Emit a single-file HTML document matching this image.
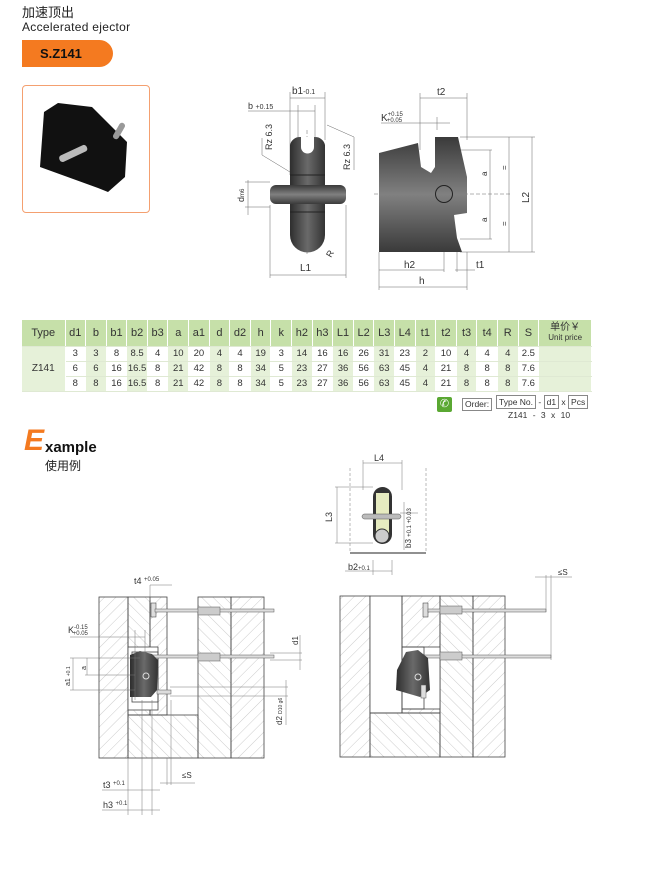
<!DOCTYPE html>
<html><head><meta charset="utf-8"><style>
body{margin:0;width:647px;height:874px;background:#fff;font-family:"Liberation Sans","Noto Sans CJK SC",sans-serif;position:relative;overflow:hidden}
.a{position:absolute;white-space:nowrap;line-height:1}
table{position:absolute;left:22px;top:320px;border-collapse:collapse;font-size:9.5px;color:#333;table-layout:fixed;width:570px}
td{text-align:center;padding:0;height:14px;border-right:1px solid #fff;border-bottom:1px solid #dfe9d3;line-height:1}
tr.h td{background:#c6e0a9;height:26px;font-size:11px}
td.g{background:#e6f1d9}
</style></head><body>
<div class="a" style="left:22px;top:6px;font-size:13px;color:#222">加速顶出</div>
<div class="a" style="left:22px;top:21px;font-size:12px;color:#222;letter-spacing:.3px">Accelerated ejector</div>
<div class="a" style="left:22px;top:40px;width:91px;height:27px;background:#f47a20;border-radius:0 14px 14px 0"></div>
<div class="a" style="left:40px;top:47px;font-size:13px;font-weight:bold;color:#111">S.Z141</div>
<div class="a" style="left:22px;top:85px;width:126px;height:126px;border:1px solid #f4a070;border-radius:4px"></div>

<table>
<colgroup><col style="width:43px"><col span="23" style="width:20.6px"><col style="width:53px"></colgroup>
<tr class="h"><td>Type</td><td>d1</td><td>b</td><td>b1</td><td>b2</td><td>b3</td><td>a</td><td>a1</td><td>d</td><td>d2</td><td>h</td><td>k</td><td>h2</td><td>h3</td><td>L1</td><td>L2</td><td>L3</td><td>L4</td><td>t1</td><td>t2</td><td>t3</td><td>t4</td><td>R</td><td>S</td><td style="font-size:10px;line-height:10px">单价￥<br><span style="font-size:8px">Unit price</span></td></tr>
<tr><td class="g" rowspan="3" style="font-size:10px">Z141</td><td>3</td><td class="g">3</td><td>8</td><td class="g">8.5</td><td>4</td><td class="g">10</td><td>20</td><td class="g">4</td><td>4</td><td class="g">19</td><td>3</td><td class="g">14</td><td>16</td><td class="g">16</td><td>26</td><td class="g">31</td><td>23</td><td class="g">2</td><td>10</td><td class="g">4</td><td>4</td><td class="g">4</td><td>2.5</td><td class="g"></td></tr>
<tr><td>6</td><td class="g">6</td><td>16</td><td class="g">16.5</td><td>8</td><td class="g">21</td><td>42</td><td class="g">8</td><td>8</td><td class="g">34</td><td>5</td><td class="g">23</td><td>27</td><td class="g">36</td><td>56</td><td class="g">63</td><td>45</td><td class="g">4</td><td>21</td><td class="g">8</td><td>8</td><td class="g">8</td><td>7.6</td><td class="g"></td></tr>
<tr><td>8</td><td class="g">8</td><td>16</td><td class="g">16.5</td><td>8</td><td class="g">21</td><td>42</td><td class="g">8</td><td>8</td><td class="g">34</td><td>5</td><td class="g">23</td><td>27</td><td class="g">36</td><td>56</td><td class="g">63</td><td>45</td><td class="g">4</td><td>21</td><td class="g">8</td><td>8</td><td class="g">8</td><td>7.6</td><td class="g"></td></tr>
</table>

<div class="a" style="left:437px;top:397px;width:15px;height:15px;background:#5aa832;border-radius:2px;color:#fff;font-size:11px;text-align:center;line-height:15px">✆</div>
<div class="a" style="left:462px;top:398px;font-size:8.5px;color:#333;border:1px solid #888;padding:1px 2px">Order:</div>
<div class="a" style="left:496px;top:398px;font-size:8.5px;color:#333"><span style="border:1px solid #888;padding:1px 2px">Type No.</span> - <span style="border:1px solid #888;padding:1px 2px">d1</span> x <span style="border:1px solid #888;padding:1px 2px">Pcs</span></div>
<div class="a" style="left:508px;top:411px;font-size:8.5px;color:#333;word-spacing:3px">Z141 - 3 x 10</div>

<div class="a" style="left:24px;top:426px;font-size:30px;font-weight:bold;font-style:italic;color:#f47a20">E</div>
<div class="a" style="left:45px;top:440px;font-size:15px;font-weight:bold;color:#111">xample</div>
<div class="a" style="left:45px;top:460px;font-size:12px;color:#222">使用例</div>

<svg class="a" style="left:0;top:0" width="647" height="874" font-family="Liberation Sans, sans-serif" font-size="9" fill="#333">
<defs>
<linearGradient id="gd" x1="0" x2="1"><stop offset="0" stop-color="#2e2e2e"/><stop offset=".5" stop-color="#6a6a6a"/><stop offset="1" stop-color="#333"/></linearGradient>
<linearGradient id="gs" x1="0" y1="0" x2="0" y2="1"><stop offset="0" stop-color="#3a3a3a"/><stop offset=".5" stop-color="#808080"/><stop offset="1" stop-color="#3a3a3a"/></linearGradient>
<pattern id="h1" width="8" height="8" patternUnits="userSpaceOnUse" patternTransform="rotate(45)"><line x1="0" y1="0" x2="0" y2="8" stroke="#aaa" stroke-width=".6"/></pattern>
<pattern id="h2" width="8" height="8" patternUnits="userSpaceOnUse" patternTransform="rotate(-45)"><line x1="0" y1="0" x2="0" y2="8" stroke="#aaa" stroke-width=".6"/></pattern>
</defs>
<polygon points="44,112 58,103 92,107 127,142 125,177 108,192 98,188 40,167" fill="#111"/>
<rect x="58" y="150" width="30" height="7" rx="3" fill="#bbb" transform="rotate(-25 73 153)"/>
<rect x="110" y="128" width="18" height="6" rx="3" fill="#999" transform="rotate(-60 119 131)"/>
<g stroke="#666" stroke-width=".5" fill="none">
<line x1="290" y1="92" x2="290" y2="175"/><line x1="325" y1="92" x2="325" y2="140"/>
<line x1="290" y1="98" x2="325" y2="98"/><line x1="248" y1="111" x2="315" y2="111"/>
<line x1="298" y1="105" x2="298" y2="150"/><line x1="315" y1="105" x2="315" y2="150"/>
<line x1="270" y1="205" x2="270" y2="278"/><line x1="346" y1="205" x2="346" y2="278"/><line x1="270" y1="275" x2="346" y2="275"/>
<line x1="245" y1="182" x2="270" y2="182"/><line x1="245" y1="207" x2="270" y2="207"/><line x1="248" y1="180" x2="248" y2="215"/>
<line x1="262" y1="138" x2="262" y2="155"/><line x1="262" y1="155" x2="290" y2="172"/>
<line x1="327" y1="125" x2="354" y2="137"/><line x1="354" y1="137" x2="354" y2="170"/>
<line x1="307" y1="130" x2="307" y2="255" stroke-dasharray="4,2"/>
</g>
<path d="M290,145 a10,10 0 0 1 10,-8 h15 a10,10 0 0 1 10,8 V235 a17.5,17.5 0 0 1 -35,0Z" fill="url(#gd)"/>
<rect x="270" y="185" width="76" height="19" rx="6" fill="url(#gs)"/>
<path d="M301,137 v10 a6.5,6.5 0 0 0 13,0 v-10Z" fill="#fff"/>
<line x1="290" y1="175" x2="325" y2="175" stroke="#222"/><line x1="290" y1="212" x2="325" y2="212" stroke="#222"/>
<text x="292" y="94" font-size="10">b1<tspan font-size="7">-0.1</tspan></text>
<text x="248" y="109" font-size="9">b <tspan font-size="7">+0.15</tspan></text>
<text transform="translate(272,150) rotate(-90)" font-size="9">Rz 6.3</text>
<text transform="translate(350,170) rotate(-90)" font-size="9">Rz 6.3</text>
<text transform="translate(244,202) rotate(-90)" font-size="9">d<tspan font-size="6">m6</tspan></text>
<text x="300" y="271" font-size="10">L1</text>
<text transform="translate(331,258) rotate(-60)" font-size="9">R</text>
<g stroke="#666" stroke-width=".5" fill="none">
<line x1="420" y1="93" x2="420" y2="150"/><line x1="467" y1="93" x2="467" y2="140"/><line x1="420" y1="98" x2="467" y2="98"/>
<line x1="381" y1="123" x2="450" y2="123"/><line x1="437" y1="117" x2="437" y2="130"/>
<line x1="460" y1="137" x2="535" y2="137"/><line x1="460" y1="252" x2="535" y2="252"/><line x1="532" y1="137" x2="532" y2="252"/>
<line x1="460" y1="150" x2="492" y2="150"/><line x1="460" y1="239" x2="492" y2="239"/><line x1="490" y1="150" x2="490" y2="239"/>
<line x1="374" y1="194" x2="512" y2="194" stroke-dasharray="4,2"/><line x1="509" y1="137" x2="509" y2="252"/>
<line x1="379" y1="252" x2="379" y2="290"/><line x1="467" y1="252" x2="467" y2="290"/><line x1="444" y1="200" x2="444" y2="272"/><line x1="457" y1="252" x2="457" y2="272"/>
<line x1="379" y1="270" x2="444" y2="270"/><line x1="455" y1="270" x2="475" y2="270"/><line x1="379" y1="287" x2="467" y2="287"/>
</g>
<polygon points="379,153 418,143 421,167 431,173 435,167 435,137 458,137 467,177 467,213 454,215 457,238 462,252 379,252" fill="url(#gs)"/>
<path d="M421,160 q5,15 14,5" fill="#fff"/>
<circle cx="444" cy="194" r="8.5" fill="none" stroke="#222"/>
<text x="437" y="95" font-size="10">t2</text>
<text x="381" y="121" font-size="10">K<tspan font-size="6" dy="-5">+0.15</tspan><tspan font-size="6" dx="-16" dy="6">+0.05</tspan></text>
<text transform="translate(487,176) rotate(-90)" font-size="8">a</text><text transform="translate(487,222) rotate(-90)" font-size="8">a</text>
<text transform="translate(507,170) rotate(-90)" font-size="8">=</text><text transform="translate(507,226) rotate(-90)" font-size="8">=</text>
<text transform="translate(529,203) rotate(-90)" font-size="10">L2</text>
<text x="404" y="268" font-size="10">h2</text><text x="476" y="268" font-size="10">t1</text><text x="419" y="284" font-size="10">h</text>

<g stroke="#777" stroke-width=".5" fill="none">
<line x1="350" y1="468" x2="350" y2="553" stroke-dasharray="3,2"/><line x1="426" y1="468" x2="426" y2="553" stroke-dasharray="3,2"/>
<line x1="363" y1="463" x2="402" y2="463"/><line x1="363" y1="460" x2="363" y2="490"/><line x1="402" y1="460" x2="402" y2="490"/>
<line x1="335" y1="487" x2="373" y2="487"/><line x1="335" y1="543" x2="373" y2="543"/><line x1="337" y1="487" x2="337" y2="543"/>
<line x1="373" y1="560" x2="373" y2="575"/><line x1="392" y1="560" x2="392" y2="575"/><line x1="345" y1="571" x2="392" y2="571"/>
<line x1="400" y1="513" x2="418" y2="513"/><line x1="404" y1="502" x2="404" y2="550"/>
</g>
<line x1="350" y1="553" x2="426" y2="553" stroke="#222"/>
<rect x="373" y="487" width="19" height="57" rx="9.5" fill="#333"/>
<rect x="376" y="493" width="13" height="42" fill="#e6ebc0"/>
<circle cx="382" cy="536" r="7" fill="#ccc" stroke="#333"/>
<rect x="362" y="514" width="39" height="5" rx="2.5" fill="#bbb" stroke="#555" stroke-width=".5"/>
<text x="374" y="461" font-size="9">L4</text>
<text transform="translate(332,522) rotate(-90)" font-size="9">L3</text>
<text transform="translate(411,548) rotate(-90)" font-size="8">b3 <tspan font-size="6">+0.1 +0.03</tspan></text>
<text x="348" y="570" font-size="9">b2<tspan font-size="6">+0.1</tspan></text>

<g stroke="#444" stroke-width=".8">
<rect x="99" y="597" width="29" height="161" fill="url(#h1)"/>
<rect x="128" y="597" width="22" height="118" fill="url(#h2)"/>
<rect x="150" y="597" width="17" height="118" fill="url(#h1)"/>
<rect x="128" y="715" width="70" height="43" fill="url(#h2)"/>
<rect x="198" y="597" width="33" height="161" fill="url(#h2)"/>
<rect x="231" y="597" width="33" height="161" fill="url(#h1)"/>
<rect x="128" y="647" width="30" height="63" fill="#fff"/>
<rect x="132" y="652" width="26" height="50" fill="none"/>
</g>
<rect x="151" y="603" width="5" height="14" fill="#ddd" stroke="#333" stroke-width=".5"/>
<rect x="155" y="609" width="119" height="3" fill="#ddd" stroke="#555" stroke-width=".5"/>
<rect x="143" y="655" width="131" height="3" fill="#ddd" stroke="#555" stroke-width=".5"/>
<rect x="198" y="607" width="22" height="8" fill="#ccc" stroke="#555" stroke-width=".5"/>
<rect x="198" y="653" width="22" height="8" fill="#ccc" stroke="#555" stroke-width=".5"/>
<polygon points="130,655 140,651 152,654 158,660 157,690 151,697 130,697" fill="url(#gd)"/>
<circle cx="146" cy="676" r="3" fill="none" stroke="#ddd"/>
<rect x="157" y="690" width="14" height="4" fill="#ddd" stroke="#555" stroke-width=".5"/>
<g stroke="#777" stroke-width=".5" fill="none">
<line x1="150" y1="585" x2="172" y2="585"/><line x1="150" y1="585" x2="150" y2="600"/>
<line x1="70" y1="637" x2="145" y2="637"/><line x1="135" y1="630" x2="135" y2="700"/><line x1="145" y1="630" x2="145" y2="660"/>
<line x1="70" y1="658" x2="140" y2="658"/><line x1="70" y1="690" x2="135" y2="690"/><line x1="73" y1="658" x2="73" y2="690"/>
<line x1="85" y1="675" x2="135" y2="675"/><line x1="87" y1="658" x2="87" y2="675"/>
<line x1="270" y1="653" x2="302" y2="653"/><line x1="270" y1="660" x2="302" y2="660"/><line x1="300" y1="635" x2="300" y2="670"/>
<line x1="170" y1="687" x2="288" y2="687"/><line x1="170" y1="696" x2="288" y2="696"/><line x1="286" y1="680" x2="286" y2="725"/>
<line x1="128" y1="758" x2="128" y2="815"/><line x1="142" y1="700" x2="142" y2="815"/><line x1="152" y1="700" x2="152" y2="815"/>
<line x1="167" y1="758" x2="167" y2="785"/><line x1="171" y1="700" x2="171" y2="785"/><line x1="160" y1="783" x2="195" y2="783"/>
<line x1="102" y1="790" x2="160" y2="790"/><line x1="102" y1="810" x2="160" y2="810"/>
</g>
<text x="134" y="584" font-size="9">t4 <tspan font-size="6" dy="-3">+0.05</tspan></text>
<text x="68" y="633" font-size="9">K<tspan font-size="6" dy="-4">-0.15</tspan><tspan font-size="6" dx="-15" dy="6">+0.05</tspan></text>
<text transform="translate(70,686) rotate(-90)" font-size="7">a1 <tspan font-size="5">+0.1</tspan></text>
<text transform="translate(86,670) rotate(-90)" font-size="7">a</text>
<text transform="translate(298,645) rotate(-90)" font-size="8">d1</text>
<text transform="translate(282,725) rotate(-90)" font-size="8">d2 <tspan font-size="5">D10 g6</tspan></text>
<text x="182" y="778" font-size="8">≤S</text>
<text x="103" y="788" font-size="9">t3 <tspan font-size="6" dy="-3">+0.1</tspan></text>
<text x="103" y="808" font-size="9">h3 <tspan font-size="6" dy="-3">+0.1</tspan></text>

<g stroke="#444" stroke-width=".8">
<rect x="340" y="596" width="30" height="161" fill="url(#h1)"/>
<rect x="370" y="596" width="32" height="117" fill="#fff"/>
<rect x="370" y="713" width="70" height="44" fill="url(#h2)"/>
<rect x="402" y="596" width="38" height="117" fill="url(#h1)"/>
<rect x="440" y="596" width="33" height="161" fill="url(#h2)"/>
<rect x="473" y="596" width="32" height="161" fill="url(#h1)"/>
<rect x="402" y="647" width="38" height="62" fill="#fff"/>
<rect x="402" y="647" width="22" height="62" fill="none"/>
</g>
<rect x="423" y="603" width="5" height="14" fill="#ddd" stroke="#333" stroke-width=".5"/>
<rect x="428" y="609" width="118" height="3" fill="#ddd" stroke="#555" stroke-width=".5"/>
<rect x="421" y="655" width="130" height="3" fill="#ddd" stroke="#555" stroke-width=".5"/>
<rect x="440" y="606" width="22" height="8" fill="#ccc" stroke="#555" stroke-width=".5"/>
<rect x="440" y="652" width="22" height="8" fill="#ccc" stroke="#555" stroke-width=".5"/>
<polygon points="406,652 418,650 428,658 430,690 420,697 396,690 397,670" fill="url(#gd)"/>
<circle cx="418" cy="677" r="3" fill="none" stroke="#ddd"/>
<rect x="421" y="685" width="5" height="13" fill="#ddd" stroke="#555" stroke-width=".5"/>
<g stroke="#777" stroke-width=".5"><line x1="546" y1="575" x2="546" y2="612"/><line x1="551" y1="575" x2="551" y2="660"/><line x1="535" y1="577" x2="572" y2="577"/></g>
<text x="558" y="575" font-size="8">≤S</text>
</svg>
</body></html>
